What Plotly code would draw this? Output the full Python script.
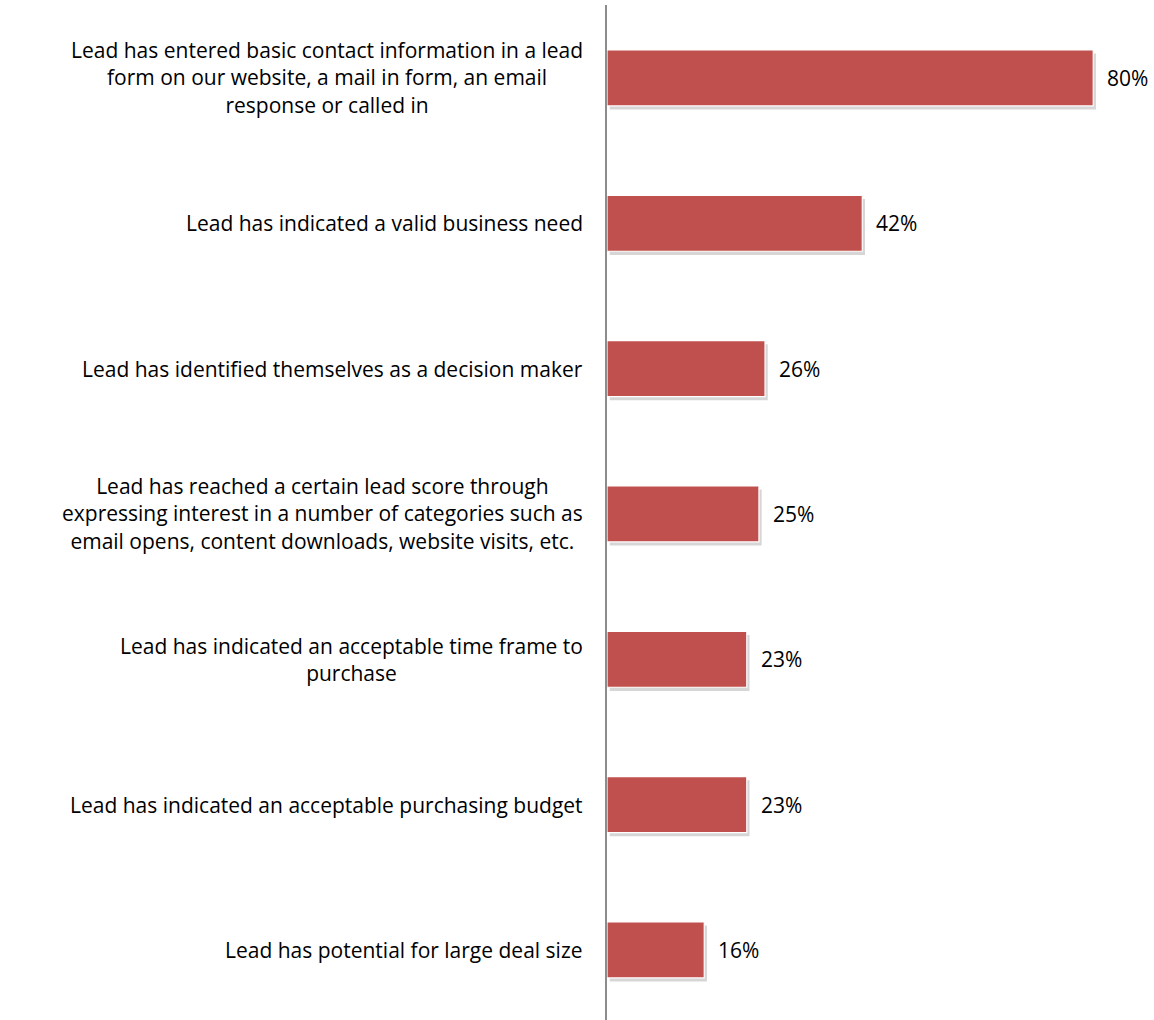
import plotly.graph_objects as go

categories = [
    "Lead has entered basic contact information in a lead<br>form on our website, a mail in form, an email<br>response or called in",
    "Lead has indicated a valid business need",
    "Lead has identified themselves as a decision maker",
    "Lead has reached a certain lead score through<br>expressing interest in a number of categories such as<br>email opens, content downloads, website visits, etc.",
    "Lead has indicated an acceptable time frame to<br>purchase",
    "Lead has indicated an acceptable purchasing budget",
    "Lead has potential for large deal size",
]
values = [80, 42, 26, 25, 23, 23, 16]

FONT = "Open Sans"
BAR_COLOR = "#C0504D"
BAR_W = 0.385

fig = go.Figure()

# soft drop shadow behind each bar
fig.add_trace(go.Bar(
    y=categories, x=values, orientation="h",
    base=0.45, width=BAR_W, offset=-BAR_W / 2 + 0.025,
    marker=dict(color="rgba(0,0,0,0.16)", line=dict(width=0)),
    hoverinfo="skip", showlegend=False,
))

fig.add_trace(go.Bar(
    y=categories, x=values, orientation="h",
    width=BAR_W,
    marker=dict(color=BAR_COLOR, line=dict(color="white", width=1.2)),
    showlegend=False,
))

# category labels, right aligned block, centered lines
for cat in categories:
    fig.add_annotation(
        x=0, xref="paper", y=cat, yref="y",
        text=cat, showarrow=False,
        xanchor="right", align="center", xshift=-22,
        font=dict(family=FONT, size=21, color="#000000"),
    )

# value labels
for cat, v in zip(categories, values):
    fig.add_annotation(
        x=v, y=cat, text=f"{v}%", showarrow=False,
        xanchor="left", xshift=12,
        font=dict(family=FONT, size=21, color="#000000"),
    )

fig.update_xaxes(range=[0, 90], visible=False)
fig.update_yaxes(
    type="category", categoryorder="array", categoryarray=categories,
    range=[6.482, -0.502], showticklabels=False, ticks="",
    showgrid=False, zeroline=False,
    showline=True, linecolor="#8c8c8c", linewidth=2,
)

fig.update_layout(
    width=1154, height=1020,
    margin=dict(l=607, r=0, t=5, b=0),
    plot_bgcolor="white", paper_bgcolor="white",
    barmode="overlay",
    font=dict(family=FONT),
)

# page body has a default 8px margin; drop it so the figure sits at 0,0
fig.write_html("out.html", config={"displayModeBar": False},
               post_script="document.body.style.margin='0';")
